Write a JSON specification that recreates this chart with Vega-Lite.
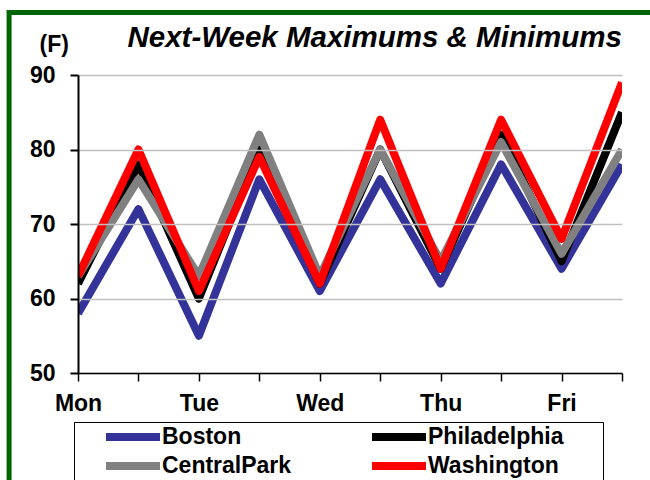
{
  "$schema": "https://vega.github.io/schema/vega-lite/v6.json",
  "width": 544,
  "height": 298,
  "autosize": {"type": "none"},
  "padding": {"left": 78, "top": 75, "right": 28, "bottom": 107},
  "background": "white",
  "title": {
    "text": "Next-Week Maximums & Minimums",
    "anchor": "end",
    "frame": "group",
    "baseline": "alphabetic",
    "offset": -38,
    "dy": 29,
    "font": "Liberation Sans",
    "fontSize": 29.5,
    "fontStyle": "italic",
    "fontWeight": "bold",
    "color": "black"
  },
  "config": {"view": {"stroke": null}, "font": "Liberation Sans"},
  "data": {
    "values": [
      {"slot": 0, "city": "Boston", "temp": 58},
      {"slot": 1, "city": "Boston", "temp": 72},
      {"slot": 2, "city": "Boston", "temp": 55},
      {"slot": 3, "city": "Boston", "temp": 76},
      {"slot": 4, "city": "Boston", "temp": 61},
      {"slot": 5, "city": "Boston", "temp": 76},
      {"slot": 6, "city": "Boston", "temp": 62},
      {"slot": 7, "city": "Boston", "temp": 78},
      {"slot": 8, "city": "Boston", "temp": 64},
      {"slot": 9, "city": "Boston", "temp": 78},
      {"slot": 0, "city": "Philadelphia", "temp": 62},
      {"slot": 1, "city": "Philadelphia", "temp": 78},
      {"slot": 2, "city": "Philadelphia", "temp": 60},
      {"slot": 3, "city": "Philadelphia", "temp": 80},
      {"slot": 4, "city": "Philadelphia", "temp": 62},
      {"slot": 5, "city": "Philadelphia", "temp": 80},
      {"slot": 6, "city": "Philadelphia", "temp": 64},
      {"slot": 7, "city": "Philadelphia", "temp": 82},
      {"slot": 8, "city": "Philadelphia", "temp": 65},
      {"slot": 9, "city": "Philadelphia", "temp": 85},
      {"slot": 0, "city": "CentralPark", "temp": 63},
      {"slot": 1, "city": "CentralPark", "temp": 76},
      {"slot": 2, "city": "CentralPark", "temp": 63},
      {"slot": 3, "city": "CentralPark", "temp": 82},
      {"slot": 4, "city": "CentralPark", "temp": 63},
      {"slot": 5, "city": "CentralPark", "temp": 80},
      {"slot": 6, "city": "CentralPark", "temp": 65},
      {"slot": 7, "city": "CentralPark", "temp": 81},
      {"slot": 8, "city": "CentralPark", "temp": 66},
      {"slot": 9, "city": "CentralPark", "temp": 80},
      {"slot": 0, "city": "Washington", "temp": 63},
      {"slot": 1, "city": "Washington", "temp": 80},
      {"slot": 2, "city": "Washington", "temp": 61},
      {"slot": 3, "city": "Washington", "temp": 79},
      {"slot": 4, "city": "Washington", "temp": 62},
      {"slot": 5, "city": "Washington", "temp": 84},
      {"slot": 6, "city": "Washington", "temp": 64},
      {"slot": 7, "city": "Washington", "temp": 84},
      {"slot": 8, "city": "Washington", "temp": 68},
      {"slot": 9, "city": "Washington", "temp": 89}
    ]
  },
  "layer": [
    {
      "data": {"values": [{}]},
      "mark": {"type": "rect", "filled": false, "stroke": "#006400", "strokeWidth": 5},
      "encoding": {
        "x": {
          "datum": -1.14,
          "type": "quantitative",
          "scale": {"domain": [0, 9], "nice": false, "zero": false},
          "axis": {
            "values": [0, 1, 2, 3, 4, 5, 6, 7, 8, 9],
            "labelExpr": "datum.value % 2 == 0 ? ['Mon','Tue','Wed','Thu','Fri'][datum.value / 2] : ''",
            "title": null,
            "grid": false,
            "domainColor": "black",
            "domainWidth": 1.5,
            "tickColor": "black",
            "tickWidth": 1.5,
            "tickSize": 8,
            "labelFont": "Liberation Sans",
            "labelFontSize": 23,
            "labelFontWeight": "bold",
            "labelColor": "black",
            "labelPadding": 11,
            "labelFlush": false,
            "labelOverlap": false,
            "zindex": 1
          }
        },
        "x2": {"datum": 9.7},
        "y": {
          "datum": 98.4,
          "type": "quantitative",
          "scale": {"domain": [50, 90], "nice": false, "zero": false},
          "axis": {
            "values": [50, 60, 70, 80, 90],
            "title": "(F)",
            "titleAngle": 0,
            "titleAlign": "left",
            "titleBaseline": "alphabetic",
            "titleX": -39,
            "titleY": -24,
            "titleFont": "Liberation Sans",
            "titleFontSize": 23,
            "titleFontWeight": "bold",
            "titleColor": "black",
            "grid": true,
            "gridColor": "#c0c0c0",
            "gridWidth": 1.5,
            "domainColor": "black",
            "domainWidth": 2,
            "tickColor": "black",
            "tickWidth": 2,
            "tickSize": 8,
            "labelFont": "Liberation Sans",
            "labelFontSize": 23,
            "labelFontWeight": "bold",
            "labelColor": "black",
            "labelPadding": 15,
            "zindex": 1
          }
        },
        "y2": {"datum": 34}
      }
    },
    {
      "encoding": {
        "x": {
          "field": "slot",
          "type": "quantitative",
          "scale": {"domain": [0, 9], "nice": false, "zero": false},
          "axis": {
            "values": [0, 1, 2, 3, 4, 5, 6, 7, 8, 9],
            "labelExpr": "datum.value % 2 == 0 ? ['Mon','Tue','Wed','Thu','Fri'][datum.value / 2] : ''",
            "title": null,
            "grid": false,
            "domainColor": "black",
            "domainWidth": 1.5,
            "tickColor": "black",
            "tickWidth": 1.5,
            "tickSize": 8,
            "labelFont": "Liberation Sans",
            "labelFontSize": 23,
            "labelFontWeight": "bold",
            "labelColor": "black",
            "labelPadding": 11,
            "labelFlush": false,
            "labelOverlap": false,
            "zindex": 1
          }
        },
        "y": {
          "field": "temp",
          "type": "quantitative",
          "scale": {"domain": [50, 90], "nice": false, "zero": false},
          "axis": {
            "values": [50, 60, 70, 80, 90],
            "title": "(F)",
            "titleAngle": 0,
            "titleAlign": "left",
            "titleBaseline": "alphabetic",
            "titleX": -39,
            "titleY": -24,
            "titleFont": "Liberation Sans",
            "titleFontSize": 23,
            "titleFontWeight": "bold",
            "titleColor": "black",
            "grid": true,
            "gridColor": "#c0c0c0",
            "gridWidth": 1.5,
            "domainColor": "black",
            "domainWidth": 2,
            "tickColor": "black",
            "tickWidth": 2,
            "tickSize": 8,
            "labelFont": "Liberation Sans",
            "labelFontSize": 23,
            "labelFontWeight": "bold",
            "labelColor": "black",
            "labelPadding": 15,
            "zindex": 1
          }
        },
        "color": {
          "field": "city",
          "type": "nominal",
          "scale": {
            "domain": ["Boston", "Philadelphia", "CentralPark", "Washington"],
            "range": ["#333399", "#000000", "#808080", "#ff0000"]
          },
          "legend": {
            "orient": "none",
            "legendX": -4,
            "legendY": 347,
            "direction": "horizontal",
            "columns": 2,
            "title": " ",
            "titleOrient": "right",
            "titlePadding": 38,
            "titleFontSize": 1,
            "symbolType": "M-3,0H3",
            "symbolSize": 324,
            "symbolStrokeWidth": 8,
            "labelFont": "Liberation Sans",
            "labelFontSize": 23,
            "labelFontWeight": "bold",
            "labelColor": "black",
            "labelLimit": 300,
            "labelOffset": 16,
            "strokeColor": "black",
            "fillColor": "white",
            "padding": 2,
            "symbolOffset": 44,
            "columnPadding": 50,
            "rowPadding": -3
          }
        }
      },
      "layer": [
        {"transform": [{"filter": "datum.city == 'Boston'"}], "mark": {"type": "line", "strokeWidth": 8, "strokeJoin": "round", "strokeCap": "butt", "clip": true}},
        {"transform": [{"filter": "datum.city == 'Philadelphia'"}], "mark": {"type": "line", "strokeWidth": 8, "strokeJoin": "round", "strokeCap": "butt", "clip": true}},
        {"transform": [{"filter": "datum.city == 'CentralPark'"}], "mark": {"type": "line", "strokeWidth": 8, "strokeJoin": "round", "strokeCap": "butt", "clip": true}},
        {"transform": [{"filter": "datum.city == 'Washington'"}], "mark": {"type": "line", "strokeWidth": 8, "strokeJoin": "round", "strokeCap": "butt", "clip": true}}
      ]
    }
  ]
}
